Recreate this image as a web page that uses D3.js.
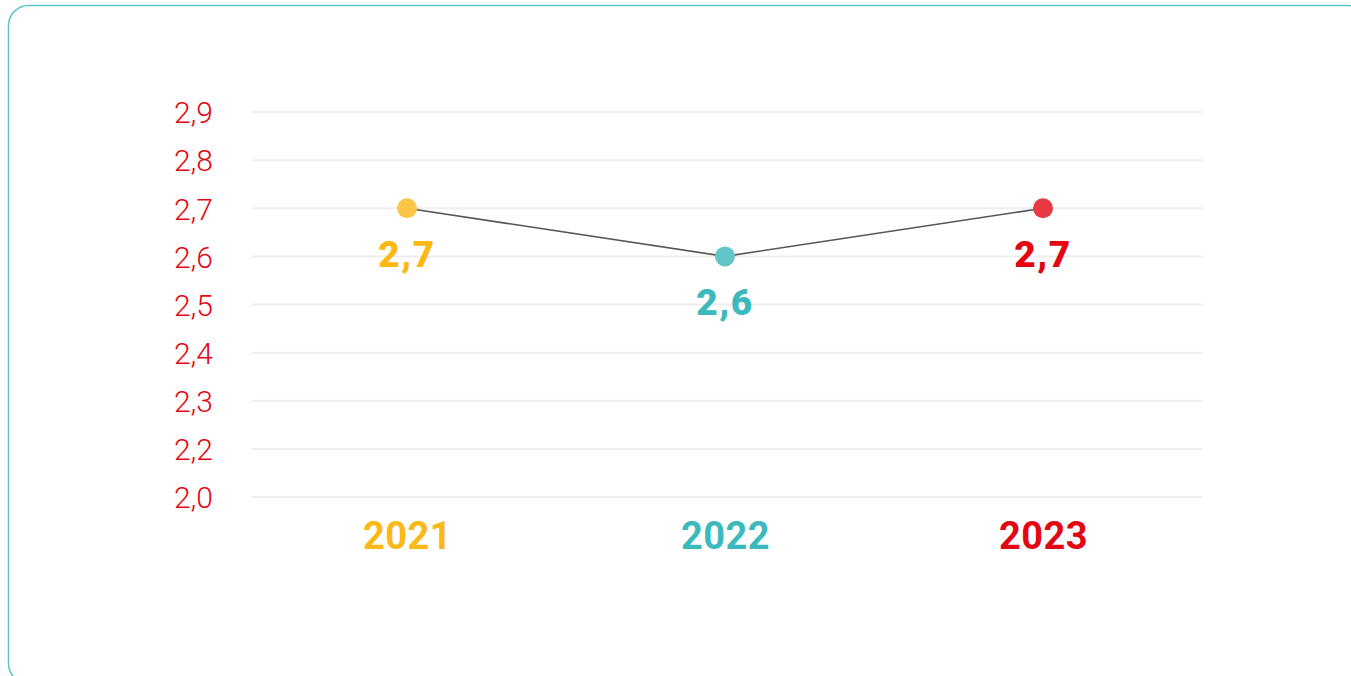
<!DOCTYPE html>
<html>
<head>
<meta charset="utf-8">
<script src="https://cdn.jsdelivr.net/npm/d3@7"></script>
<style>
  html, body { margin: 0; padding: 0; background: #fff; overflow: hidden; }
  svg { display: block; }
</style>
</head>
<body>
<svg id="chart" width="1351" height="676"></svg>
<script>
const years = ["2021", "2022", "2023"];
const values = [2.7, 2.6, 2.7];
const valueLabels = ["2,7", "2,6", "2,7"];
const yTicks = [2.0, 2.2, 2.3, 2.4, 2.5, 2.6, 2.7, 2.8, 2.9];
const yTickLabels = ["2,0", "2,2", "2,3", "2,4", "2,5", "2,6", "2,7", "2,8", "2,9"];
const textColors = ["#fdb913", "#3cb9bc", "#e30613"];
const pointColors = ["#fdc545", "#62c6c8", "#e83841"];

const svg = d3.select("#chart");
const font = "Roboto, 'Open Sans', sans-serif";

// card border
svg.append("rect")
  .attr("x", 8.5).attr("y", 5.5)
  .attr("width", 1360).attr("height", 678)
  .attr("rx", 20).attr("ry", 20)
  .attr("fill", "#fff")
  .attr("stroke", "#5cc5c7")
  .attr("stroke-width", 1.5);

const x = d3.scalePoint().domain(years).range([248, 1202]).padding(0.5);
const y = d3.scalePoint().domain(yTicks).range([497, 112]);

// gridlines
svg.append("g").selectAll("line").data(yTicks).join("line")
  .attr("x1", 252).attr("x2", 1202)
  .attr("y1", d => y(d)).attr("y2", d => y(d))
  .attr("stroke", "#eeeeee").attr("stroke-width", 2);

// y axis labels
const yAxis = d3.axisLeft(y).tickSize(0).tickPadding(0)
  .tickFormat((d, i) => yTickLabels[i]);
const gy = svg.append("g").attr("transform", "translate(213,0)").call(yAxis);
gy.select(".domain").remove();
gy.selectAll("text")
  .attr("fill", "#e30613")
  .attr("font-family", font)
  .attr("font-weight", 300)
  .attr("font-size", 30)
  .attr("dy", "0.36em");

// x axis labels
const xAxis = d3.axisBottom(x).tickSize(0).tickPadding(0);
const gx = svg.append("g").attr("transform", "translate(0,549)").call(xAxis);
gx.select(".domain").remove();
gx.selectAll("text")
  .attr("dy", 0)
  .attr("fill", (d, i) => textColors[i])
  .attr("font-family", font)
  .attr("font-weight", 700)
  .attr("font-size", 38)
  .attr("letter-spacing", 0.5);

// line
const pts = years.map((yr, i) => [x(yr), y(values[i])]);
svg.append("path")
  .attr("d", d3.line()(pts))
  .attr("fill", "none")
  .attr("stroke", "#555555")
  .attr("stroke-width", 1.6);

// points
svg.append("g").selectAll("circle").data(years).join("circle")
  .attr("cx", d => x(d))
  .attr("cy", (d, i) => y(values[i]))
  .attr("r", 10)
  .attr("fill", (d, i) => pointColors[i]);

// value labels
svg.append("g").selectAll("text").data(years).join("text")
  .attr("x", d => x(d))
  .attr("y", (d, i) => y(values[i]) + 59)
  .attr("text-anchor", "middle")
  .attr("fill", (d, i) => textColors[i])
  .attr("font-family", font)
  .attr("font-weight", 900)
  .attr("font-size", 37)
  .attr("letter-spacing", 1.5)
  .text((d, i) => valueLabels[i]);
</script>
</body>
</html>
